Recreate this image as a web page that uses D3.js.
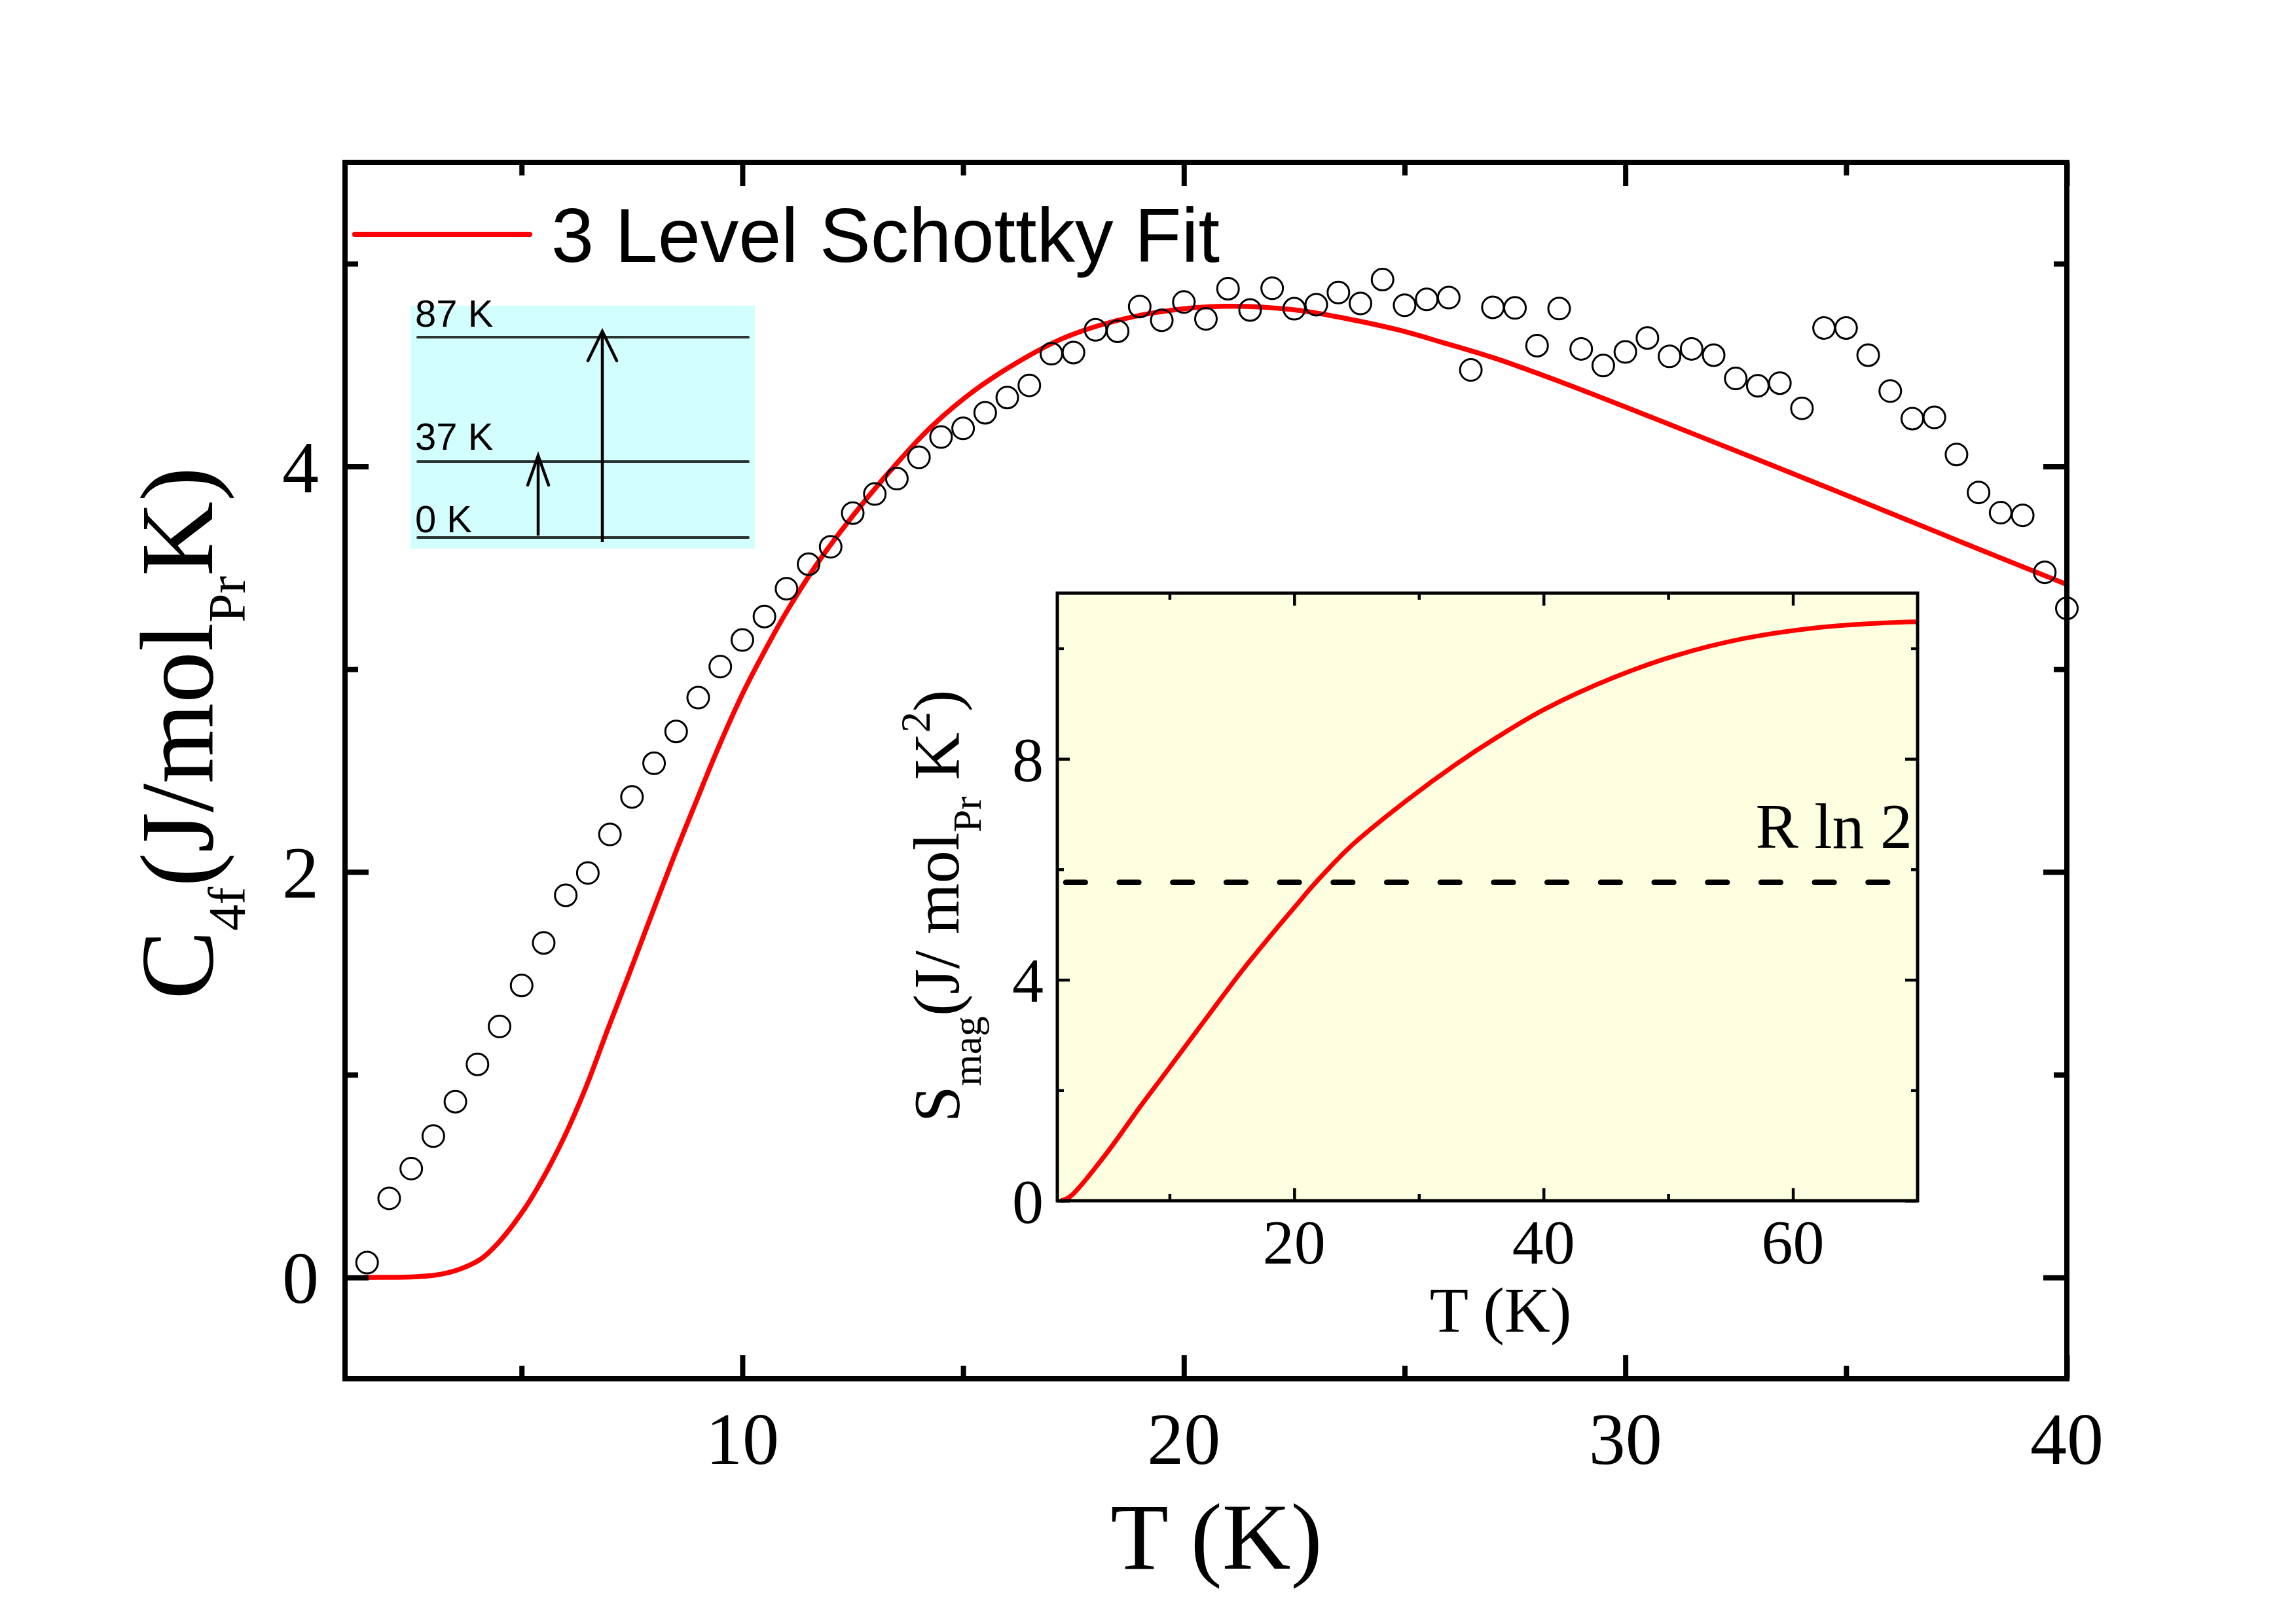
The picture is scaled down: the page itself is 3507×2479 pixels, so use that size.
<!DOCTYPE html>
<html><head><meta charset="utf-8">
<script src="https://cdn.jsdelivr.net/npm/d3@7"></script>
<style>body{margin:0;background:#fff} svg{display:block}</style>
</head><body>
<svg id="c" width="3507" height="2479"></svg>
<script>
// ---------- data ----------
const tempK = [1.5,2,2.5,3,3.5,4,4.5,5,5.5,6,6.5,7,7.5,8,8.5,9,9.5,10,10.5,11,11.5,12,12.5,13,13.5,14,14.5,15,15.5,16,16.5,17,17.5,18,18.5,19,19.5,20,20.5,21,21.5,22,22.5,23,23.5,24,24.5,25,25.5,26,26.5,27,27.5,28,28.5,29,29.5,30,30.5,31,31.5,32,32.5,33,33.5,34,34.5,35,35.5,36,36.5,37,37.5,38,38.5,39,39.5,40];
const c4f = [0.073,0.39,0.537,0.697,0.867,1.051,1.238,1.44,1.65,1.885,1.995,2.185,2.37,2.536,2.693,2.86,3.013,3.144,3.26,3.397,3.518,3.604,3.77,3.864,3.94,4.045,4.145,4.188,4.265,4.34,4.40,4.556,4.562,4.674,4.667,4.789,4.721,4.811,4.728,4.877,4.772,4.879,4.778,4.798,4.858,4.804,4.922,4.795,4.824,4.833,4.476,4.785,4.782,4.596,4.779,4.58,4.498,4.565,4.634,4.543,4.58,4.549,4.434,4.398,4.411,4.287,4.683,4.683,4.549,4.372,4.236,4.242,4.059,3.872,3.772,3.759,3.478,3.30];

const fitT = [1.4,2.0,2.57,3.0,3.48,4.07,4.47,5.07,5.46,5.96,6.46,6.95,7.45,7.85,8.44,8.94,9.44,10.03,10.53,11.02,11.82,12.81,13.6,14.3,15.29,16.4,17.24,18.15,19.38,20.91,22.44,23.67,24.89,25.81,27.03,28.56,30.1,31.63,33.16,34.69,36.23,37.75,39.29,40.0];
const fitC = [0,0.0005,0.003,0.01,0.032,0.09,0.17,0.34,0.48,0.69,0.94,1.223,1.505,1.735,2.07,2.34,2.605,2.89,3.10,3.29,3.56,3.84,4.04,4.20,4.38,4.535,4.63,4.70,4.76,4.79,4.774,4.73,4.672,4.615,4.535,4.415,4.285,4.153,4.02,3.886,3.75,3.615,3.48,3.418];

const insetT = [1.3,2.0,4.75,7.8,9.7,12.8,15.8,18.0,20.2,21.6,24.6,29.1,32.9,36.2,40.1,45.6,50.6,56.1,61.7,67.2,70];
const insetS = [0,0.07,0.80,1.75,2.32,3.26,4.16,4.77,5.36,5.73,6.43,7.26,7.89,8.38,8.90,9.47,9.87,10.18,10.37,10.46,10.48];
const rLn2 = 5.763;

const mainXMajor = [10,20,30,40], mainXMinor = [5,15,25,35];
const mainYMajor = [0,2,4], mainYMinor = [1,3,5];
const insXMajor = [20,40,60], insXMinor = [10,30,50];
const insYMajor = [0,4,8], insYMinor = [2,6,10];

const levelsK = [0,37,87];
const levelLabels = ["0 K","37 K","87 K"];
const transitions = [[0,37],[0,87]];

// ---------- setup ----------
const svg = d3.select("#c");
const SERIF = "'Liberation Serif','Times New Roman',serif";
const SANS = "'Liberation Sans',Arial,sans-serif";
svg.append("rect").attr("width",3507).attr("height",2479).attr("fill","#fff");

const x = d3.scaleLinear().domain([1,40]).range([527,3157]);
const y = d3.scaleLinear().domain([-0.5,5.5]).range([2106,248]);

function ticks(g, scale, orient, pos, vals, len, sw){
  const ax = orient(scale).tickValues(vals).tickSize(-len).tickFormat("");
  const a = g.append("g").attr("transform", pos).call(ax);
  a.select(".domain").remove();
  a.selectAll(".tick line").attr("stroke","#000").attr("stroke-width",sw);
}

// ---------- main plot ----------
const main = svg.append("g");
const fitData = fitT.map((t,i)=>[t,fitC[i]]);
main.append("path").datum(fitData)
  .attr("d", d3.line().x(d=>x(d[0])).y(d=>y(d[1])).curve(d3.curveCatmullRom.alpha(0.5)))
  .attr("fill","none").attr("stroke","#ff0000").attr("stroke-width",7.5).attr("stroke-linejoin","round");
main.append("g").selectAll("circle").data(tempK.map((t,i)=>[t,c4f[i]])).join("circle")
  .attr("cx",d=>x(d[0])).attr("cy",d=>y(d[1])).attr("r",16.5)
  .attr("fill","none").attr("stroke","#000").attr("stroke-width",3);

ticks(main, x, d3.axisBottom, "translate(0,2106)", mainXMajor, 36, 8);
ticks(main, x, d3.axisBottom, "translate(0,2106)", mainXMinor, 20, 8);
ticks(main, x, d3.axisTop, "translate(0,248)", mainXMajor, 36, 8);
ticks(main, x, d3.axisTop, "translate(0,248)", mainXMinor, 20, 8);
ticks(main, y, d3.axisLeft, "translate(527,0)", mainYMajor, 36, 8);
ticks(main, y, d3.axisLeft, "translate(527,0)", mainYMinor, 20, 8);
ticks(main, y, d3.axisRight, "translate(3157,0)", mainYMajor, 36, 8);
ticks(main, y, d3.axisRight, "translate(3157,0)", mainYMinor, 20, 8);

main.append("rect").attr("x",x(1)).attr("y",y(5.5)).attr("width",x(40)-x(1)).attr("height",y(-0.5)-y(5.5))
  .attr("fill","none").attr("stroke","#000").attr("stroke-width",8);

main.append("g").selectAll("text").data(mainXMajor).join("text")
  .attr("x",d=>x(d)).attr("y",2236).attr("text-anchor","middle")
  .attr("font-family",SERIF).attr("font-size",112).text(d=>d);
main.append("g").selectAll("text").data(mainYMajor).join("text")
  .attr("x",487).attr("y",d=>y(d)).attr("dy","0.35em").attr("text-anchor","end")
  .attr("font-family",SERIF).attr("font-size",112).text(d=>d);

main.append("text").attr("x",1858).attr("y",2396).attr("text-anchor","middle")
  .attr("font-family",SERIF).attr("font-size",145).text("T (K)");
const yt = main.append("text").attr("transform","translate(324,1120) rotate(-90)")
  .attr("text-anchor","middle").attr("font-family",SERIF).attr("font-size",158);
yt.append("tspan").text("C");
yt.append("tspan").attr("font-size",80).attr("dy",50).text("4f");
yt.append("tspan").attr("dy",-50).text("(J/mol");
yt.append("tspan").attr("font-size",80).attr("dy",50).text("Pr");
yt.append("tspan").attr("dy",-50).text("K)");

main.append("line").attr("x1",542).attr("x2",809).attr("y1",358).attr("y2",358)
  .attr("stroke","#ff0000").attr("stroke-width",8).attr("stroke-linecap","round");
main.append("text").attr("x",842).attr("y",400).attr("font-family",SANS).attr("font-size",117).text("3 Level Schottky Fit");

// ---------- energy level diagram ----------
const lv = svg.append("g");
const ly = d3.scaleLinear().domain(levelsK).range([821,705,515]);
lv.append("rect").attr("x",627).attr("y",467).attr("width",526).attr("height",371).attr("fill","#d2fefe");
lv.selectAll("line.lvl").data(levelsK).join("line").attr("class","lvl")
  .attr("x1",638).attr("x2",1143).attr("y1",d=>ly(d)).attr("y2",d=>ly(d))
  .attr("stroke","#2b3533").attr("stroke-width",4).attr("stroke-linecap","round");
const labOff = [8,18,16];
lv.selectAll("text").data(levelsK).join("text")
  .attr("x",634).attr("y",(d,i)=>ly(d)-labOff[i])
  .attr("font-family",SANS).attr("font-size",58).text((d,i)=>levelLabels[i]);
const arrowX = [822,920], arrowBottom = [818,828], headW = [16,22];
transitions.forEach((tr,i)=>{
  const tip = ly(tr[1]) - 9, ax = arrowX[i];
  lv.append("line").attr("x1",ax).attr("x2",ax).attr("y1",arrowBottom[i]).attr("y2",tip)
    .attr("stroke","#000").attr("stroke-width",4.5);
  lv.append("path").attr("d",`M${ax-headW[i]},${tip+45}L${ax},${tip}L${ax+headW[i]},${tip+45}`)
    .attr("fill","none").attr("stroke","#000").attr("stroke-width",4.5).attr("stroke-linecap","round");
});

// ---------- inset ----------
const ins = svg.append("g");
const ix = d3.scaleLinear().domain([1,70]).range([1615,2929]);
const iy = d3.scaleLinear().domain([0,11]).range([1834,906]);
ins.append("rect").attr("x",ix(1)).attr("y",iy(11)).attr("width",ix(70)-ix(1)).attr("height",iy(0)-iy(11))
  .attr("fill","#fefee0");
ins.append("line").attr("x1",1628).attr("x2",2884).attr("y1",iy(rLn2)).attr("y2",iy(rLn2))
  .attr("stroke","#000").attr("stroke-width",8.5).attr("stroke-dasharray","29.7,52").attr("stroke-linecap","round");
ins.append("path").datum(insetT.map((t,i)=>[t,insetS[i]]))
  .attr("d", d3.line().x(d=>ix(d[0])).y(d=>iy(d[1])).curve(d3.curveCatmullRom.alpha(0.5)))
  .attr("fill","none").attr("stroke","#ff0000").attr("stroke-width",7);

ticks(ins, ix, d3.axisBottom, "translate(0,1834)", insXMajor, 19, 4.5);
ticks(ins, ix, d3.axisBottom, "translate(0,1834)", insXMinor, 10, 4.5);
ticks(ins, ix, d3.axisTop, "translate(0,906)", insXMajor, 19, 4.5);
ticks(ins, ix, d3.axisTop, "translate(0,906)", insXMinor, 10, 4.5);
ticks(ins, iy, d3.axisLeft, "translate(1615,0)", insYMajor, 19, 4.5);
ticks(ins, iy, d3.axisLeft, "translate(1615,0)", insYMinor, 10, 4.5);
ticks(ins, iy, d3.axisRight, "translate(2929,0)", insYMajor, 19, 4.5);
ticks(ins, iy, d3.axisRight, "translate(2929,0)", insYMinor, 10, 4.5);
ins.append("rect").attr("x",ix(1)).attr("y",iy(11)).attr("width",ix(70)-ix(1)).attr("height",iy(0)-iy(11))
  .attr("fill","none").attr("stroke","#000").attr("stroke-width",5);

ins.append("text").attr("x",2921).attr("y",1295).attr("text-anchor","end")
  .attr("font-family",SERIF).attr("font-size",98).text("R ln 2");

ins.append("g").selectAll("text").data(insXMajor).join("text")
  .attr("x",d=>ix(d)).attr("y",1930).attr("text-anchor","middle")
  .attr("font-family",SERIF).attr("font-size",96).text(d=>d);
ins.append("g").selectAll("text").data(insYMajor).join("text")
  .attr("x",1594).attr("y",d=>iy(d)).attr("dy","0.35em").attr("text-anchor","end")
  .attr("font-family",SERIF).attr("font-size",96).text(d=>d);
ins.append("text").attr("x",2292).attr("y",2034).attr("text-anchor","middle")
  .attr("font-family",SERIF).attr("font-size",97).text("T (K)");
const it = ins.append("text").attr("transform","translate(1464,1384) rotate(-90)")
  .attr("text-anchor","middle").attr("font-family",SERIF).attr("font-size",100);
it.append("tspan").text("S");
it.append("tspan").attr("font-size",62).attr("dy",34).text("mag");
it.append("tspan").attr("dy",-34).text("(J/ mol");
it.append("tspan").attr("font-size",62).attr("dy",34).text("Pr");
it.append("tspan").attr("dy",-34).text(" K");
it.append("tspan").attr("font-size",64).attr("dy",-44).text("2");
it.append("tspan").attr("dy",44).text(")");
</script>
</body></html>
